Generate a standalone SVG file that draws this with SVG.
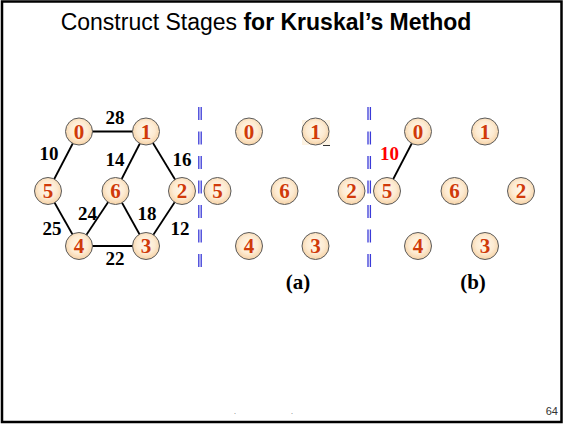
<svg xmlns="http://www.w3.org/2000/svg" width="564" height="425" viewBox="0 0 564 425">
<defs>
<radialGradient id="nf" cx="50%" cy="45%" r="55%">
<stop offset="0" stop-color="#FFF8EC"/>
<stop offset="0.6" stop-color="#FDEBD2"/>
<stop offset="1" stop-color="#F6D2A6"/>
</radialGradient>
<style>
.n{fill:url(#nf);stroke:#5a5a5a;stroke-width:1}
.nl{font-family:"Liberation Serif","DejaVu Serif",serif;font-weight:bold;font-size:21px;fill:#D03A0A;text-anchor:middle}
.e{stroke:#000;stroke-width:1.8;fill:none}
.w{font-family:"Liberation Serif","DejaVu Serif",serif;font-weight:bold;font-size:19px;fill:#000;text-anchor:middle}
.sep{stroke:#3A3AD8;stroke-width:1.3;stroke-dasharray:13 11.5}
.cap{font-family:"Liberation Serif","DejaVu Serif",serif;font-weight:bold;font-size:21px;fill:#000;text-anchor:middle}
</style>
</defs>
<rect x="0" y="0" width="564" height="425" fill="#fff"/>
<rect x="2" y="1.5" width="559.5" height="420.5" fill="none" stroke="#000" stroke-width="2.5"/>
<text x="266" y="30" font-family="Liberation Sans, Arial, sans-serif" font-size="23" text-anchor="middle" fill="#000">Construct Stages <tspan font-weight="bold">for Kruskal’s Method</tspan></text>

<g id="connectors">
<line class="e" x1="79" y1="131.5" x2="146" y2="131.5"/>
<line class="e" x1="79" y1="131.5" x2="48" y2="191"/>
<line class="e" x1="146" y1="131.5" x2="115.5" y2="191"/>
<line class="e" x1="146" y1="131.5" x2="182" y2="191"/>
<line class="e" x1="48" y1="191" x2="79" y2="246"/>
<line class="e" x1="115.5" y1="191" x2="79" y2="246"/>
<line class="e" x1="115.5" y1="191" x2="146" y2="246"/>
<line class="e" x1="182" y1="191" x2="146" y2="246"/>
<line class="e" x1="79" y1="246" x2="146" y2="246"/>
<line class="e" x1="418" y1="131.5" x2="387" y2="191"/>
</g>

<g id="weights">
<text class="w" x="115" y="123.5">28</text>
<text class="w" x="49" y="159.7">10</text>
<text class="w" x="115" y="166.4">14</text>
<text class="w" x="182" y="166.4">16</text>
<text class="w" x="52" y="234.7">25</text>
<text class="w" x="87.5" y="219.7">24</text>
<text class="w" x="147" y="219.7">18</text>
<text class="w" x="180" y="234.7">12</text>
<text class="w" x="115" y="265.4">22</text>
<text class="w" x="389.5" y="159.7" fill="#FF0000" style="fill:#FF0000">10</text>
</g>

<g id="separators">
<line class="sep" x1="198.8" y1="107" x2="198.8" y2="269"/>
<line class="sep" x1="201.2" y1="107" x2="201.2" y2="269"/>
<line class="sep" x1="368" y1="107" x2="368" y2="269"/>
<line class="sep" x1="370.4" y1="107" x2="370.4" y2="269"/>
</g>

<g id="graph">
<g id="g-n0"><circle class="n" cx="79" cy="131.5" r="13.5"/><text class="nl" x="79" y="138.7">0</text></g>
<g id="g-n1"><circle class="n" cx="146" cy="131.5" r="13.5"/><text class="nl" x="146" y="138.7">1</text></g>
<g id="g-n5"><circle class="n" cx="48" cy="191" r="13.5"/><text class="nl" x="48" y="198.2">5</text></g>
<g id="g-n6"><circle class="n" cx="115.5" cy="191" r="13.5"/><text class="nl" x="115.5" y="198.2">6</text></g>
<g id="g-n2"><circle class="n" cx="182" cy="191" r="13.5"/><text class="nl" x="182" y="198.2">2</text></g>
<g id="g-n4"><circle class="n" cx="79" cy="246" r="13.5"/><text class="nl" x="79" y="253.2">4</text></g>
<g id="g-n3"><circle class="n" cx="146" cy="246" r="13.5"/><text class="nl" x="146" y="253.2">3</text></g>
</g>

<g id="stage-a">
<rect x="302" y="120" width="28" height="25" fill="#FDF3E3"/>
<line x1="323" y1="145.5" x2="330" y2="145.5" stroke="#000" stroke-width="0.8"/>
<g id="a-n0"><circle class="n" cx="249" cy="131.5" r="13.5"/><text class="nl" x="249" y="138.7">0</text></g>
<g id="a-n1"><circle class="n" cx="315.5" cy="131.5" r="13.5"/><text class="nl" x="315.5" y="138.7">1</text></g>
<g id="a-n5"><circle class="n" cx="217.5" cy="191" r="13.5"/><text class="nl" x="217.5" y="198.2">5</text></g>
<g id="a-n6"><circle class="n" cx="284.5" cy="191" r="13.5"/><text class="nl" x="284.5" y="198.2">6</text></g>
<g id="a-n2"><circle class="n" cx="351.5" cy="191" r="13.5"/><text class="nl" x="351.5" y="198.2">2</text></g>
<g id="a-n4"><circle class="n" cx="249" cy="246" r="13.5"/><text class="nl" x="249" y="253.2">4</text></g>
<g id="a-n3"><circle class="n" cx="315.5" cy="246" r="13.5"/><text class="nl" x="315.5" y="253.2">3</text></g>
<text class="cap" x="298" y="289">(a)</text>
</g>

<g id="stage-b">
<g id="b-n0"><circle class="n" cx="418" cy="131.5" r="13.5"/><text class="nl" x="418" y="138.7">0</text></g>
<g id="b-n1"><circle class="n" cx="485" cy="131.5" r="13.5"/><text class="nl" x="485" y="138.7">1</text></g>
<g id="b-n5"><circle class="n" cx="387" cy="191" r="13.5"/><text class="nl" x="387" y="198.2">5</text></g>
<g id="b-n6"><circle class="n" cx="454.5" cy="191" r="13.5"/><text class="nl" x="454.5" y="198.2">6</text></g>
<g id="b-n2"><circle class="n" cx="521" cy="191" r="13.5"/><text class="nl" x="521" y="198.2">2</text></g>
<g id="b-n4"><circle class="n" cx="418" cy="246" r="13.5"/><text class="nl" x="418" y="253.2">4</text></g>
<g id="b-n3"><circle class="n" cx="485" cy="246" r="13.5"/><text class="nl" x="485" y="253.2">3</text></g>
<text class="cap" x="473" y="289">(b)</text>
</g>

<text x="235" y="414" font-family="Liberation Sans, Arial, sans-serif" font-size="7" fill="#555" text-anchor="middle">.</text>
<text x="292" y="414" font-family="Liberation Sans, Arial, sans-serif" font-size="7" fill="#555" text-anchor="middle">.</text>
<text x="558" y="415" font-family="Liberation Sans, Arial, sans-serif" font-size="11" fill="#333" text-anchor="end">64</text>
</svg>
